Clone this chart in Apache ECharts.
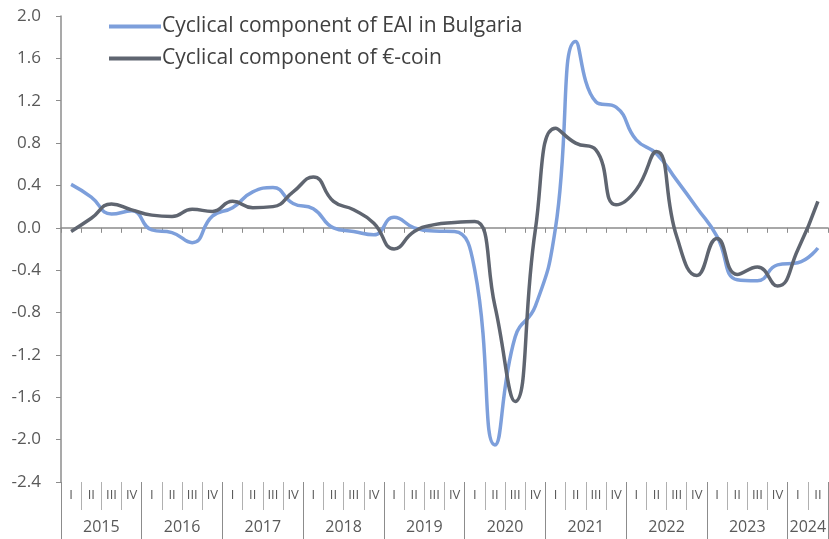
<!DOCTYPE html>
<html>
<head>
<meta charset="utf-8">
<script src="https://cdn.jsdelivr.net/npm/echarts@6/dist/echarts.min.js"></script>
<style>
html,body{margin:0;padding:0;background:#fff;}
#chart{width:829px;height:539px;}
</style>
</head>
<body>
<div id="chart"></div>
<script>
var years = ['2015','2016','2017','2018','2019','2020','2021','2022','2023','2024'];
var quartersPerYear = [4,4,4,4,4,4,4,4,4,2];
var quarterNames = ['I','II','III','IV'];

var eaiBulgaria = [0.41, 0.29, 0.13, 0.16, -0.02, -0.045, -0.14, 0.11,
                   0.19, 0.34, 0.38, 0.23, 0.18, 0.0, -0.035, -0.066,
                   0.10, 0.0, -0.03, -0.035, -0.40, -2.05, -1.03, -0.74,
                   0.0, 1.76, 1.19, 1.14, 0.83, 0.70, 0.45, 0.19,
                   -0.08, -0.49, -0.50, -0.35, -0.33, -0.19];
var eurocoin = [-0.035, 0.09, 0.226, 0.17, 0.12, 0.107, 0.175, 0.155,
                0.25, 0.19, 0.20, 0.34, 0.48, 0.25, 0.17, 0.044,
                -0.20, -0.035, 0.03, 0.05, 0.06, -0.74, -1.64, -0.02,
                0.94, 0.80, 0.736, 0.217, 0.36, 0.72, -0.08, -0.45,
                -0.10, -0.44, -0.37, -0.55, -0.21, 0.25];

var seriesNames = ['Cyclical component of EAI in Bulgaria', 'Cyclical component of \u20ac-coin'];

// derived category structures
var quarters = [];
var yearBounds = [0];
var yearCenters = [];
var pos = 0;
years.forEach(function(y, k){
  var n = quartersPerYear[k];
  for (var q = 0; q < n; q++) quarters.push(y + ' ' + quarterNames[q]);
  yearCenters.push(pos + n / 2);
  pos += n;
  yearBounds.push(pos);
});
var nQ = quarters.length;

var FONT = 'Open Sans';
var chart = echarts.init(document.getElementById('chart'));
chart.setOption({
  animation: false,
  textStyle: {fontFamily: FONT},
  grid: {left: 61, right: 1, top: 16, bottom: 57, containLabel: false, outerBoundsMode: 'none'},
  legend: {
    orient: 'vertical', left: 104, top: 11, itemGap: 11,
    icon: 'rect', itemWidth: 52, itemHeight: 4,
    textStyle: {fontFamily: FONT, fontSize: 21, color: '#404040', padding: [0,0,0,-4]},
    data: seriesNames
  },
  xAxis: [
    {
      type: 'category', data: quarters, boundaryGap: true,
      axisLine: {onZero: true, lineStyle: {color: '#8c8c8c', width: 1.5}},
      axisTick: {show: true, interval: 0, length: 5, lineStyle: {color: '#8c8c8c'}},
      axisLabel: {show: false}, splitLine: {show: false}
    },
    {
      type: 'category', data: quarters, boundaryGap: true, position: 'bottom',
      axisLine: {show: false, onZero: false},
      axisTick: {show: true, interval: 0, length: 28, lineStyle: {color: '#b0b0b0'}},
      axisLabel: {interval: 0, margin: 7, fontSize: 13, color: '#595959', fontFamily: FONT,
        formatter: function(v){ return v.split(' ')[1]; }},
      splitLine: {show: false}
    },
    {
      type: 'value', min: 0, max: nQ, position: 'bottom',
      axisLine: {show: false, onZero: false},
      axisTick: {show: true, length: 57, lineStyle: {color: '#8c8c8c'}, customValues: yearBounds},
      axisLabel: {margin: 37, fontSize: 16, color: '#595959', fontFamily: FONT,
        customValues: yearCenters, showMinLabel: true, showMaxLabel: true,
        formatter: function(v){
          var i = yearCenters.indexOf(v);
          return i >= 0 ? years[i] : '';
        }},
      splitLine: {show: false}
    }
  ],
  yAxis: {
    type: 'value', min: -2.4, max: 2.0, interval: 0.4,
    axisLine: {show: true, onZero: false, lineStyle: {color: '#8c8c8c', width: 1.5}},
    axisTick: {show: true, length: 5, lineStyle: {color: '#8c8c8c'}},
    axisLabel: {margin: 20, fontSize: 17, color: '#595959', fontFamily: FONT,
      formatter: function(v){ return v.toFixed(1); }},
    splitLine: {show: false}
  },
  series: [
    {
      name: seriesNames[0], type: 'line', data: eaiBulgaria, smooth: 0.5,
      symbol: 'none', lineStyle: {color: '#7d9fdb', width: 3.5},
      itemStyle: {color: '#7d9fdb'}, z: 3
    },
    {
      name: seriesNames[1], type: 'line', data: eurocoin, smooth: 0.5,
      symbol: 'none', lineStyle: {color: '#5f6570', width: 3.5},
      itemStyle: {color: '#5f6570'}, z: 4
    }
  ]
});
</script>
</body>
</html>
